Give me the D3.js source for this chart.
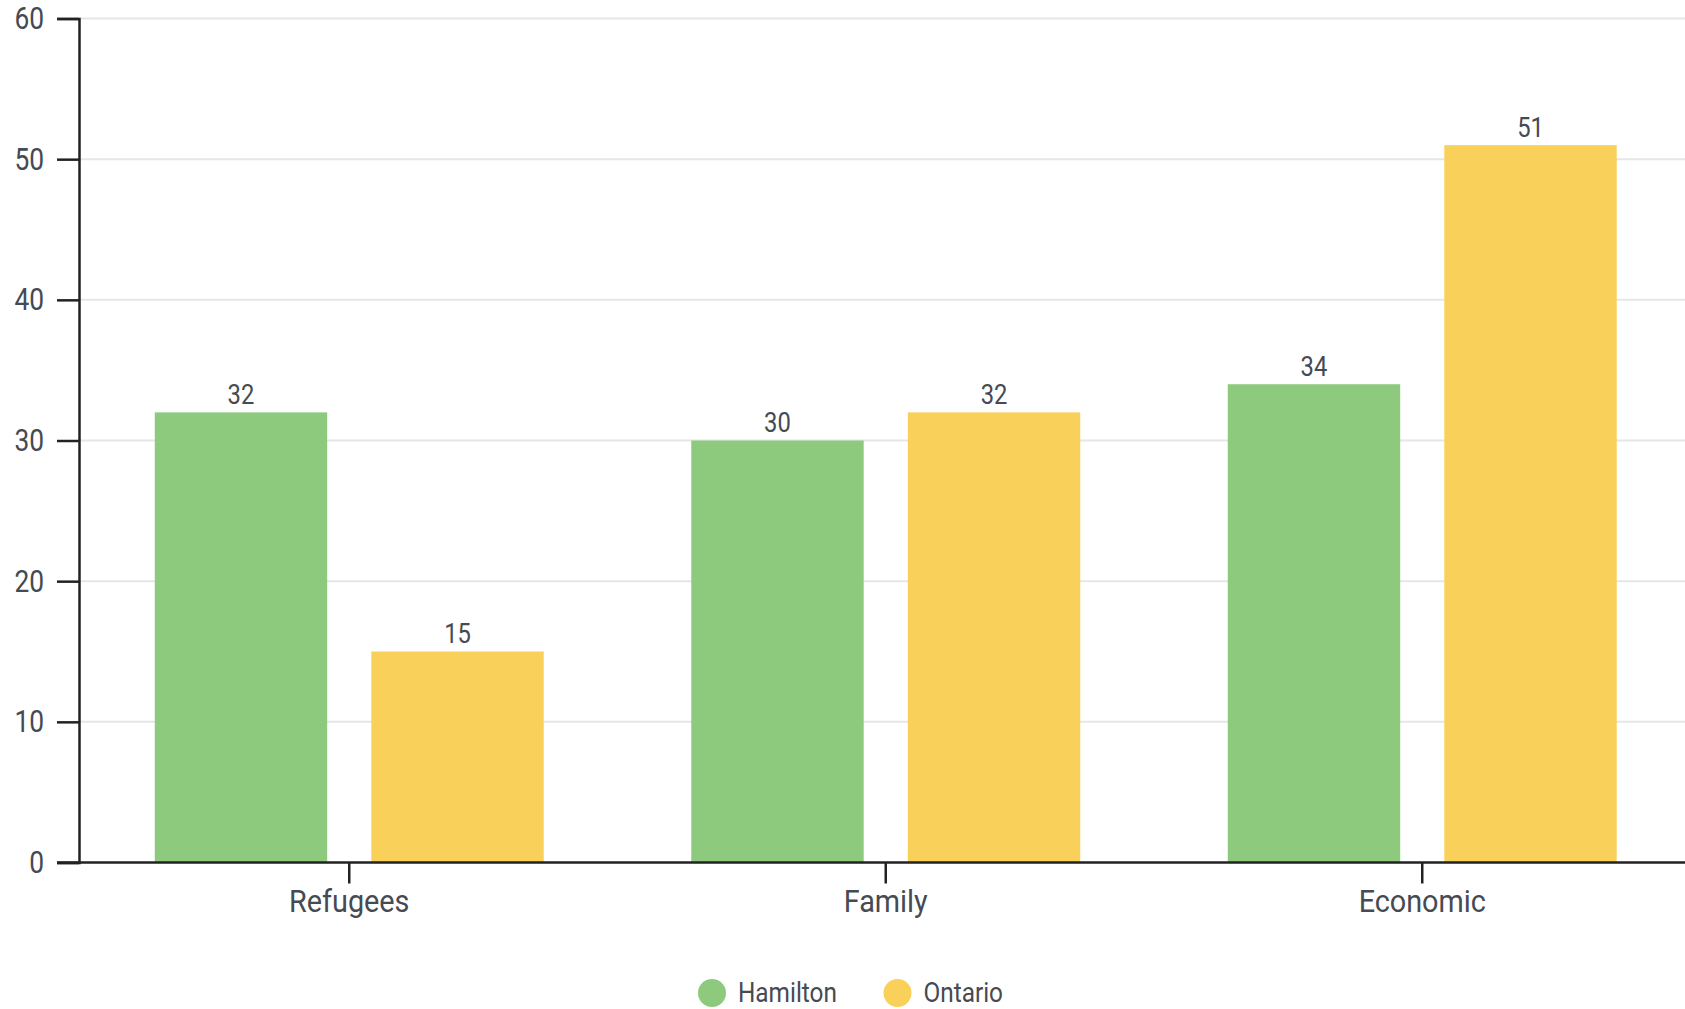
<!DOCTYPE html>
<html>
<head>
<meta charset="utf-8">
<script src="https://cdnjs.cloudflare.com/ajax/libs/d3/7.8.5/d3.min.js"></script>
<style>
  html, body { margin: 0; padding: 0; background: #fff; }
  svg { display: block; }
  text { font-family: Roboto, "Noto Sans", sans-serif; fill: #454a53; }
</style>
</head>
<body>
<svg id="chart" width="1685" height="1009"></svg>
<script>
// Immigration admission categories, share (%) by region
const categories = ["Refugees", "Family", "Economic"];
const seriesNames = ["Hamilton", "Ontario"];
const hamilton = [32, 30, 34];
const ontario = [15, 32, 51];
const yTicks = [0, 10, 20, 30, 40, 50, 60];
const colors = ["#8dca7e", "#f9d15a"];

const values = [hamilton, ontario];
const W = 1685, H = 1009;
const m = { top: 18.5, bottom: 146.5, left: 79 };
const svg = d3.select("#chart");

// Roboto squeezed horizontally for a condensed look
function squeeze(k) { return `scale(${k},1)`; }

const x0 = d3.scaleBand().domain(categories).range([81, 1690.5])
  .paddingInner(0.275).paddingOuter(0.1375);
const x1 = d3.scaleBand().domain(seriesNames).range([0, x0.bandwidth()])
  .paddingInner(0.2037);
const y = d3.scaleLinear().domain([0, 60]).range([H - m.bottom, m.top]);

// grid lines
svg.append("g").selectAll("line").data(yTicks.filter(d => d > 0)).join("line")
  .attr("x1", m.left).attr("x2", W)
  .attr("y1", d => y(d)).attr("y2", d => y(d))
  .attr("stroke", "#e6e6e6").attr("stroke-width", 2);

// bars
const groups = svg.append("g").selectAll("g").data(categories).join("g")
  .attr("transform", c => `translate(${x0(c)},0)`);
const cells = (c, i) => seriesNames.map((s, k) => ({ s, k, v: values[k][i] }));
groups.selectAll("rect").data(cells).join("rect")
  .attr("x", d => x1(d.s)).attr("width", x1.bandwidth())
  .attr("y", d => y(d.v)).attr("height", d => y(0) - y(d.v))
  .attr("fill", d => colors[d.k]);

// value labels
groups.selectAll("text.val").data(cells).join("text").attr("class", "val")
  .attr("transform", d => `translate(${x1(d.s) + x1.bandwidth() / 2},${y(d.v) - 8.5}) ${squeeze(0.85)}`)
  .attr("text-anchor", "middle")
  .style("font-size", "28px")
  .text(d => d.v);

// y axis
const yCond = 0.85;
const yAxis = svg.append("g").attr("transform", `translate(${m.left},0)`)
  .call(d3.axisLeft(y).tickValues(yTicks).tickSize(22).tickPadding(13));
yAxis.select(".domain").attr("stroke", "#222").attr("stroke-width", 2.5);
yAxis.selectAll(".tick line").attr("stroke", "#222").attr("stroke-width", 2.5);
yAxis.selectAll(".tick text").style("font-size", "31px")
  .attr("transform", function () {
    const xx = +d3.select(this).attr("x");
    return `translate(${xx * (1 - yCond)},0) ${squeeze(yCond)}`;
  });

// x axis
const xAxis = svg.append("g").attr("transform", `translate(0,${y(0)})`)
  .call(d3.axisBottom(x0).tickSize(21).tickPadding(6).tickSizeOuter(0));
xAxis.select(".domain").attr("stroke", "#222").attr("stroke-width", 2.5)
  .attr("d", `M${m.left - 22},0H${W}`);
xAxis.selectAll(".tick line").attr("stroke", "#222").attr("stroke-width", 2.5);
xAxis.selectAll(".tick text").style("font-size", "32px")
  .attr("transform", squeeze(0.9));

// legend
const legend = svg.append("g");
const legendX = [712, 897.5];
seriesNames.forEach((s, k) => {
  legend.append("circle").attr("cx", legendX[k]).attr("cy", 993).attr("r", 14)
    .attr("fill", colors[k]);
  legend.append("text")
    .attr("transform", `translate(${legendX[k] + 26},1002) ${squeeze(0.87)}`)
    .style("font-size", "28px").text(s);
});
</script>
</body>
</html>
